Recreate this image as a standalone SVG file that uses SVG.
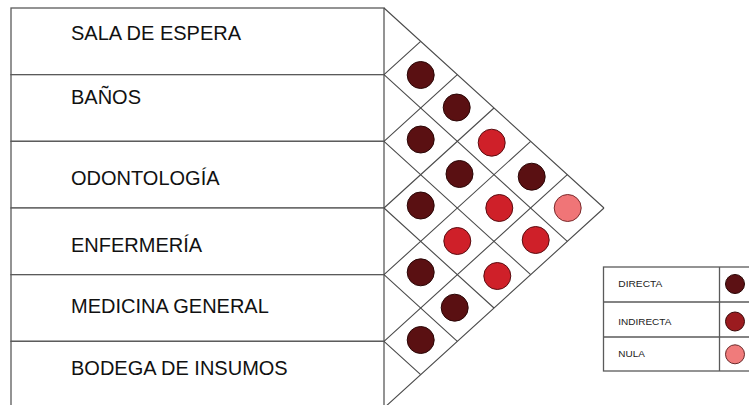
<svg xmlns="http://www.w3.org/2000/svg" width="749" height="405" viewBox="0 0 749 405">
<style>
.tbl{fill:#ffffff;stroke:#5a5a5a;stroke-width:1.3}
.grid{fill:none;stroke:#4a4a4a;stroke-width:1.1}
.lbl{font-family:"Liberation Sans",Arial,sans-serif;font-size:20px;fill:#111111}
.leg{font-family:"Liberation Sans",Arial,sans-serif;font-size:9px;fill:#222222}
.d{fill:#5a1012;stroke:#2a0606;stroke-width:1}
.r{fill:#cf2029;stroke:#5a0c10;stroke-width:1}
.n{fill:#f07577;stroke:#7a2a2c;stroke-width:1}
.ld{fill:#5c1114;stroke:#2a0606;stroke-width:1}
.lr{fill:#9b1b1f;stroke:#3a0808;stroke-width:1}
.ln{fill:#f07b7b;stroke:#6a2a2a;stroke-width:1}
</style>
<rect width="749" height="405" fill="#ffffff"/>
<g id="rows">
<g id="row-sala"><rect class="tbl" x="11" y="8" width="373" height="66.67"/><text class="lbl" x="71" y="39.5">SALA DE ESPERA</text></g>
<g id="row-banos"><rect class="tbl" x="11" y="74.67" width="373" height="66.67"/><text class="lbl" x="71" y="104">BAÑOS</text></g>
<g id="row-odonto"><rect class="tbl" x="11" y="141.33" width="373" height="66.67"/><text class="lbl" x="71" y="184.5">ODONTOLOGÍA</text></g>
<g id="row-enfer"><rect class="tbl" x="11" y="208" width="373" height="66.67"/><text class="lbl" x="71" y="251.5">ENFERMERÍA</text></g>
<g id="row-medicina"><rect class="tbl" x="11" y="274.67" width="373" height="66.67"/><text class="lbl" x="71" y="312.5">MEDICINA GENERAL</text></g>
<g id="row-bodega"><rect class="tbl" x="11" y="341.33" width="373" height="66.67"/><text class="lbl" x="71" y="375">BODEGA DE INSUMOS</text></g>
</g>
<g id="connectors">
<path class="grid" d="M384,8 L604,208 M384,74.67 L567.33,241.33 M384,141.33 L530.67,274.67 M384,208 L494,308 M384,274.67 L457.33,341.33 M384,341.33 L420.67,374.67"/>
<path class="grid" d="M384,74.67 L420.67,41.33 M384,141.33 L457.33,74.67 M384,208 L494,108 M384,274.67 L530.67,141.33 M384,341.33 L567.33,174.67 M384,408 L604,208"/>
</g>
<g id="relations">
<circle class="d" cx="420.7" cy="75" r="13.5"/>
<circle class="d" cx="456.7" cy="107.5" r="13.5"/>
<circle class="d" cx="420.7" cy="139.5" r="13.5"/>
<circle class="r" cx="491.7" cy="142.7" r="13.5"/>
<circle class="d" cx="459.5" cy="174" r="13.5"/>
<circle class="d" cx="531.7" cy="176.7" r="13.5"/>
<circle class="d" cx="420.7" cy="205.5" r="13.5"/>
<circle class="r" cx="499.3" cy="208" r="13.5"/>
<circle class="n" cx="567.7" cy="208" r="13.5"/>
<circle class="r" cx="457.3" cy="241" r="13.5"/>
<circle class="r" cx="535.7" cy="240" r="13.5"/>
<circle class="d" cx="420.7" cy="272.3" r="13.5"/>
<circle class="r" cx="497.3" cy="276" r="13.5"/>
<circle class="d" cx="454.7" cy="307.7" r="13.5"/>
<circle class="d" cx="420.7" cy="340" r="13.5"/>
</g>
<g id="legend">
<rect class="tbl" x="603.5" y="267" width="160" height="104"/>
<line class="tbl" x1="603.5" y1="302" x2="760" y2="302"/>
<line class="tbl" x1="603.5" y1="337" x2="760" y2="337"/>
<line class="tbl" x1="719.5" y1="267" x2="719.5" y2="371"/>
<text class="leg" x="618.3" y="286.7" textLength="44" lengthAdjust="spacingAndGlyphs">DIRECTA</text>
<text class="leg" x="618.3" y="325.3" textLength="53" lengthAdjust="spacingAndGlyphs">INDIRECTA</text>
<text class="leg" x="618.3" y="356.7" textLength="26.5" lengthAdjust="spacingAndGlyphs">NULA</text>
<circle class="ld" cx="735" cy="284" r="9.5"/>
<circle class="lr" cx="735" cy="321.5" r="9.5"/>
<circle class="ln" cx="735" cy="354.3" r="9.5"/>
</g>
</svg>
